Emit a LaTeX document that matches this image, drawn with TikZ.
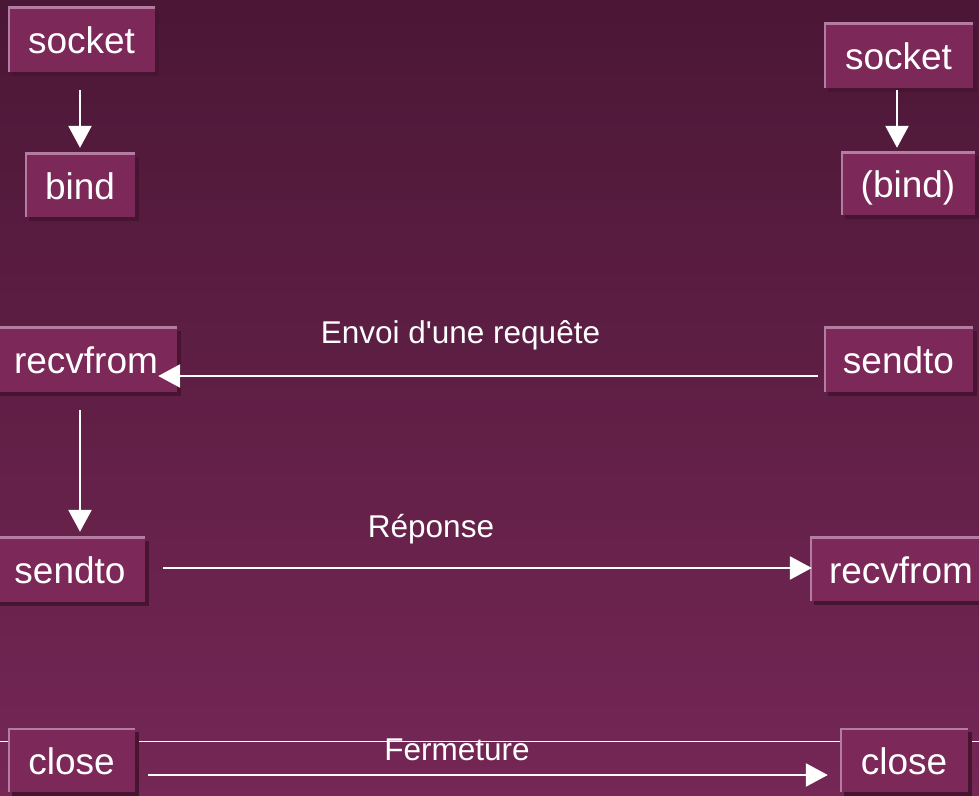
\documentclass[tikz,border=0pt]{standalone}
\usepackage{fontspec}
\setmainfont{Liberation Sans}[Ligatures=TeXOff]
\usetikzlibrary{arrows.meta,shadows}
\definecolor{bgtop}{HTML}{4B1736}
\definecolor{bgbot}{HTML}{752755}
\definecolor{boxfill}{HTML}{7C2858}
\definecolor{boxlight}{HTML}{B57CA2}
\definecolor{boxshadow}{HTML}{471431}
\tikzset{
  fnbox/.style={inner sep=0pt, text=white, font=\fontsize{37}{40}\selectfont,
    text height=33pt, text depth=4pt, minimum height=65pt, fill=boxfill,
    drop shadow={shadow xshift=4pt, shadow yshift=-4pt, fill=boxshadow, opacity=1},
    path picture={\draw[boxlight, line width=4pt]
      (path picture bounding box.south west) -- (path picture bounding box.north west)
      -- (path picture bounding box.north east);}},
  lbl/.style={inner sep=0pt, anchor=base, text=white, font=\fontsize{31.5}{34}\selectfont},
  arr/.style={draw=white, line width=2.6pt, -{Triangle[length=22pt,width=23pt]}},
}
\begin{document}
\begin{tikzpicture}[x=1pt,y=1pt]
\useasboundingbox (0,0) rectangle (979,795);
\clip (0,0) rectangle (979,795);
\shade[top color=bgtop, bottom color=bgbot] (0,0) rectangle (979,795);
% thin line behind close boxes
\coordinate (tl) at (0,54);
\coordinate (tr) at (979,54);
\draw[white, line width=1pt] (tl) -- (tr);
% boxes
\node[fnbox, minimum width=147pt] (socketL) at (81.5,755.5) {socket};
\node[fnbox, minimum width=110pt, minimum height=64pt] (bindL) at (80,610) {bind};
\node[fnbox, minimum width=149pt] (socketR) at (898.5,739.5) {socket};
\node[fnbox, minimum width=134pt, minimum height=63pt] (bindR) at (908,611.5) {(bind)};
\node[fnbox, minimum width=182pt] (recvL) at (86,435.5) {recvfrom};
\node[fnbox, minimum width=149pt] (sendR) at (898.5,435.5) {sendto};
\node[fnbox, minimum width=150pt] (sendL) at (70,225.5) {sendto};
\node[fnbox, minimum width=182pt, minimum height=64pt] (recvR) at (901,226) {recvfrom};
\node[fnbox, minimum width=127pt, minimum height=64pt] (closeL) at (71.5,35) {close};
\node[fnbox, minimum width=128pt, minimum height=64pt] (closeR) at (904,35) {close};
% labels
\node[lbl] (l1) at (460.5,451) {Envoi d'une requête};
\node[lbl] (l2) at (431,257) {Réponse};
\node[lbl] (l3) at (457,35) {Fermeture};
% arrows
\draw[arr, shorten <=18pt, shorten >=5pt] ([xshift=-1.5pt]socketL.south) -- (bindL.north);
\draw[arr, shorten <=2pt, shorten >=4pt] ([xshift=-1.5pt]socketR.south) -- ([xshift=-11pt]bindR.north);
\draw[arr, shorten <=6pt, shorten >=-19pt] ([yshift=-16.5pt]sendR.west) -- ([yshift=-16.5pt]recvL.east);
\draw[arr, shorten <=18pt, shorten >=5pt] ([xshift=-6pt]recvL.south) -- ([xshift=10pt]sendL.north);
\draw[arr, shorten <=18pt, shorten >=-2pt] ([yshift=1.5pt]sendL.east) -- ([yshift=1pt]recvR.west);
\draw[arr, shorten <=13pt, shorten >=12pt] ([yshift=-15pt]closeL.east) -- ([yshift=-15pt]closeR.west);
\end{tikzpicture}
\end{document}
